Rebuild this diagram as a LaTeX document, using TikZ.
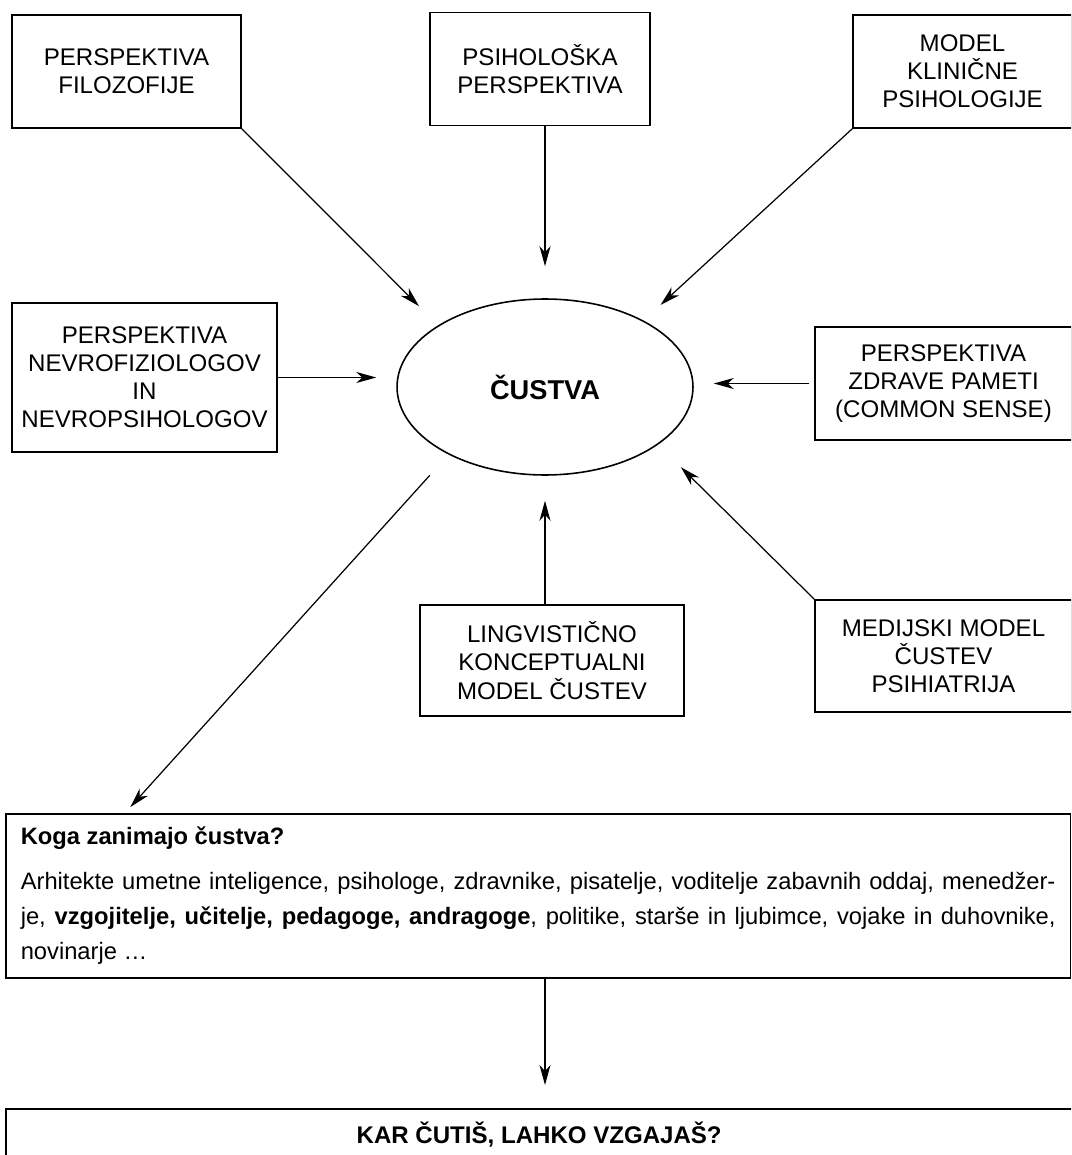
\documentclass[tikz,border=0pt]{standalone}
\usepackage{fontspec}
\setmainfont{Liberation Sans}
\usetikzlibrary{arrows.meta,calc,shapes.geometric}

\begin{document}
\begin{tikzpicture}[x=0.02cm, y=-0.02cm, >={Stealth[length=4mm, width=2.2mm, inset=1.2mm]}]
  \tikzstyle{persp} = [draw=black, line width=0.9pt, align=center, font=\fontsize{13.7}{16}\selectfont, inner sep=0pt]
  \tikzstyle{link} = [->, line width=0.7pt]

  \useasboundingbox (0,0) rectangle (1071,1155);
  \clip (0,0) rectangle (1071,1155);

  % top row
  \foreach \n / \x / \y / \w / \t in {filo/126.5/71.5/4.58/{PERSPEKTIVA\\FILOZOFIJE}, psih/540/69/4.4/{PSIHOLOŠKA\\PERSPEKTIVA}, model/962.5/71.5/4.38/{MODEL\\KLINIČNE\\PSIHOLOGIJE}} {%
    \node[persp, minimum width=\w cm, minimum height=2.26cm] (\n) at (\x, \y) {\t};
  }

  \node[persp, minimum width=5.3cm, minimum height=2.98cm] (nevro) at (144.5, 377.5) {PERSPEKTIVA\\NEVROFIZIOLOGOV\\IN\\NEVROPSIHOLOGOV};
  \node[draw, ellipse, line width=0.9pt, minimum width=5.92cm, minimum height=3.52cm, font=\bfseries\fontsize{15.5}{18}\selectfont] (cust) at (545, 387) {ČUSTVA};
  \node[persp, minimum width=5.14cm, minimum height=2.26cm] (zdrave) at (943.5, 383.5) {PERSPEKTIVA\\ZDRAVE PAMETI\\(COMMON SENSE)};
  \node[persp, minimum width=5.28cm, minimum height=2.22cm] (lingv) at (552, 660.5) {LINGVISTIČNO\\KONCEPTUALNI\\MODEL ČUSTEV};
  \node[persp, minimum width=5.14cm, minimum height=2.24cm] (medij) at (943.5, 656) {MEDIJSKI MODEL\\ČUSTEV\\PSIHIATRIJA};

  % who is interested
  \node[draw, line width=0.9pt, anchor=north west, text width=20.7cm, inner xsep=0.3cm, inner ysep=0pt, minimum height=3.28cm, align=justify, font=\fontsize{13.5}{20}\selectfont] (koga) at (5, 813) {\textbf{Koga zanimajo čustva?}\\[0.2cm]
    Arhitekte umetne inteligence, psihologe, zdravnike, pisatelje, voditelje zabavnih oddaj, menedžer-\linebreak je, \textbf{vzgojitelje, učitelje, pedagoge, andragoge}, politike, starše in ljubimce, vojake in duhovnike,\linebreak novinarje \dots};
  \node[draw, line width=0.9pt, anchor=north west, minimum width=21.34cm, minimum height=1.04cm, font=\bfseries\fontsize{13.7}{16}\selectfont] (kar) at (5, 1108) {KAR ČUTIŠ, LAHKO VZGAJAŠ?};

  % arrows
  \draw[link, shorten >=0.54cm] (filo.south east) -- (cust.150);
  \draw[link, shorten >=0.64cm] (cust.north |- psih.south) -- (cust.north);
  \draw[link, shorten >=0.46cm] (model.south west) -- (cust.34);
  \draw[link, shorten >=0.4cm] (nevro.east) -- (nevro.east -| cust.west);
  \draw[link, shorten <=0.1cm, shorten >=0.4cm] (zdrave.west) -- (zdrave.west -| cust.east);
  \draw[link, shorten >=0.5cm] (cust.south |- lingv.north) -- (cust.south);
  \draw[link, shorten >=0.64cm] (medij.north west) -- (cust.-27);
  \draw[link, shorten <=0.56cm, shorten >=0.16cm] (cust.215) -- ($(koga.north west)!0.1125!(koga.north east)$);
  \draw[link, shorten >=0.46cm] (cust.south |- koga.south) -- (cust.south |- kar.north);
\end{tikzpicture}
\end{document}
